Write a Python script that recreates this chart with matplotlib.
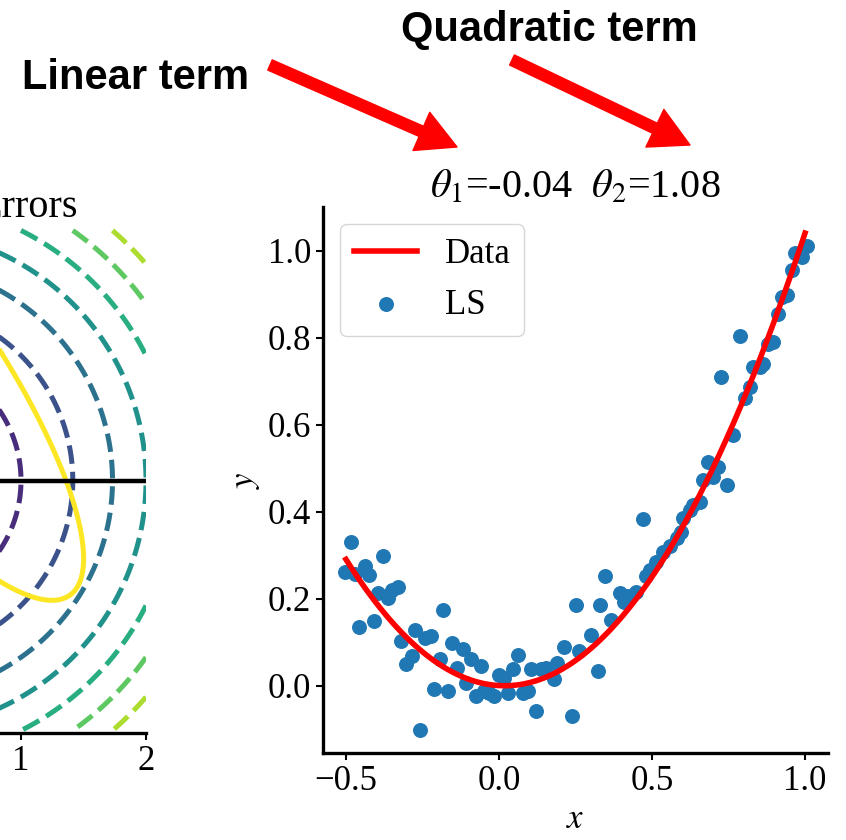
import matplotlib
matplotlib.use("Agg")
import matplotlib.pyplot as plt
import numpy as np

plt.rcParams['font.family'] = ['Liberation Serif', 'DejaVu Serif']
plt.rcParams['mathtext.fontset'] = 'stix'
plt.rcParams['font.size'] = 25

# fitted parameters shown in the title
theta1 = -0.04
theta2 = 1.08

# noisy samples
x_pts = [-0.503, -0.485, -0.471, -0.458, -0.438, -0.425, -0.408, -0.394, -0.378, -0.362,
         -0.348, -0.330, -0.319, -0.303, -0.285, -0.274, -0.258, -0.241, -0.223, -0.212,
         -0.193, -0.182, -0.168, -0.152, -0.136, -0.119, -0.108, -0.092, -0.075, -0.059,
         -0.048, -0.032, -0.015, 0.001, 0.017, 0.031, 0.045, 0.063, 0.077, 0.094,
         0.105, 0.121, 0.138, 0.154, 0.181, 0.189, 0.214, 0.239, 0.252, 0.260,
         0.301, 0.323, 0.329, 0.345, 0.367, 0.394, 0.410, 0.421, 0.449, 0.470,
         0.481, 0.492, 0.514, 0.536, 0.558, 0.580, 0.596, 0.601, 0.623, 0.634,
         0.656, 0.667, 0.683, 0.700, 0.716, 0.727, 0.744, 0.765, 0.787, 0.803,
         0.820, 0.831, 0.853, 0.863, 0.880, 0.896, 0.913, 0.924, 0.940, 0.956,
         0.967, 0.989, 1.005]
y_pts = [0.262, 0.329, 0.257, 0.134, 0.274, 0.255, 0.149, 0.213, 0.298, 0.201,
         0.220, 0.226, 0.102, 0.050, 0.067, 0.128, -0.101, 0.109, 0.113, -0.008,
         0.060, 0.174, -0.013, 0.098, 0.041, 0.083, 0.006, 0.060, -0.023, 0.046,
         -0.013, -0.017, -0.023, 0.025, 0.018, -0.018, 0.037, 0.071, -0.017, -0.013,
         0.038, -0.059, 0.037, 0.041, 0.014, 0.052, 0.088, -0.069, 0.186, 0.079,
         0.117, 0.033, 0.186, 0.251, 0.151, 0.213, 0.193, 0.205, 0.216, 0.382,
         0.251, 0.266, 0.285, 0.308, 0.320, 0.339, 0.354, 0.385, 0.404, 0.415,
         0.423, 0.472, 0.514, 0.480, 0.503, 0.709, 0.461, 0.576, 0.803, 0.662,
         0.686, 0.732, 0.732, 0.740, 0.786, 0.790, 0.855, 0.893, 0.897, 0.956,
         0.994, 0.985, 1.011]

# contour settings of the left "Errors" panel
ridge_levels = [1, 2, 3, 4, 5, 6, 7]
err_level = 0.185

fig = plt.figure(figsize=(8.46, 8.40), dpi=100)

# left panel (mostly cut off by the crop)
ax1 = fig.add_axes([-354/846, 107/840, 500/846, 505/840])
t = np.linspace(-2, 2, 400)
T1, T2 = np.meshgrid(t, t)
xa = np.array(x_pts)
ax1.contour(T1, T2, T1**2 + T2**2, levels=ridge_levels, cmap='viridis',
            vmin=0, vmax=8, linestyles='dashed', linewidths=3.6)
E = ((T1[..., None] - theta1) * xa + (T2[..., None] - theta2) * xa**2)**2
E = E.mean(axis=-1)
ax1.contour(T1, T2, E, levels=[err_level], colors='#fde725', linewidths=3.6)
ax1.axhline(0, color='k', lw=3.2)
ax1.set_xlim(-2, 2)
ax1.set_ylim(-2.02, 2.02)
ax1.set_xticks([1, 2])
ax1.set_yticks([])
for s in ['top', 'right', 'left']:
    ax1.spines[s].set_visible(False)
ax1.spines['bottom'].set_linewidth(2.4)
ax1.tick_params(width=1.5, length=5)
ax1.text(0.864, 1.022, 'Errors', transform=ax1.transAxes, ha='right',
         va='baseline', fontsize=29)

# right panel
ax2 = fig.add_axes([323/846, 87/840, 505/846, 546/840])
xs = np.linspace(-0.5, 1.0, 200)
ax2.plot(xs, theta1 * xs + theta2 * xs**2, color='red', lw=4, label='Data', zorder=3)
ax2.scatter(x_pts, y_pts, s=95, color='#1f77b4', label='LS', zorder=2)
ax2.set_xlim(-0.575, 1.075)
ax2.set_ylim(-0.155, 1.1)
ax2.set_xticks([-0.5, 0.0, 0.5, 1.0])
ax2.set_yticks([0.0, 0.2, 0.4, 0.6, 0.8, 1.0])
ax2.set_xlabel('$x$')
ax2.set_ylabel('$y$')
ax2.set_title(r'$\theta_1$=-0.04  $\theta_2$=1.08', fontsize=29)
for s in ['top', 'right']:
    ax2.spines[s].set_visible(False)
for s in ['left', 'bottom']:
    ax2.spines[s].set_linewidth(2.4)
ax2.tick_params(width=1.5, length=5)
ax2.legend(loc='upper left', handlelength=1.8)

# annotations
fig.text(136/846, 1 - 78/840, 'Linear term', ha='center', va='center',
         fontsize=30, fontweight='bold', family='Liberation Sans')
fig.text(549/846, 1 - 30/840, 'Quadratic term', ha='center', va='center',
         fontsize=30, fontweight='bold', family='Liberation Sans')
arrow = dict(color='red', width=8, headwidth=30, headlength=28)
ax2.annotate('', xy=(457/846, 1 - 147/840), xytext=(270/846, 1 - 65/840),
             xycoords='figure fraction', textcoords='figure fraction',
             arrowprops=arrow, annotation_clip=False)
ax2.annotate('', xy=(690/846, 1 - 145/840), xytext=(512/846, 1 - 60/840),
             xycoords='figure fraction', textcoords='figure fraction',
             arrowprops=arrow, annotation_clip=False)

fig.savefig('out.png', dpi=100)
